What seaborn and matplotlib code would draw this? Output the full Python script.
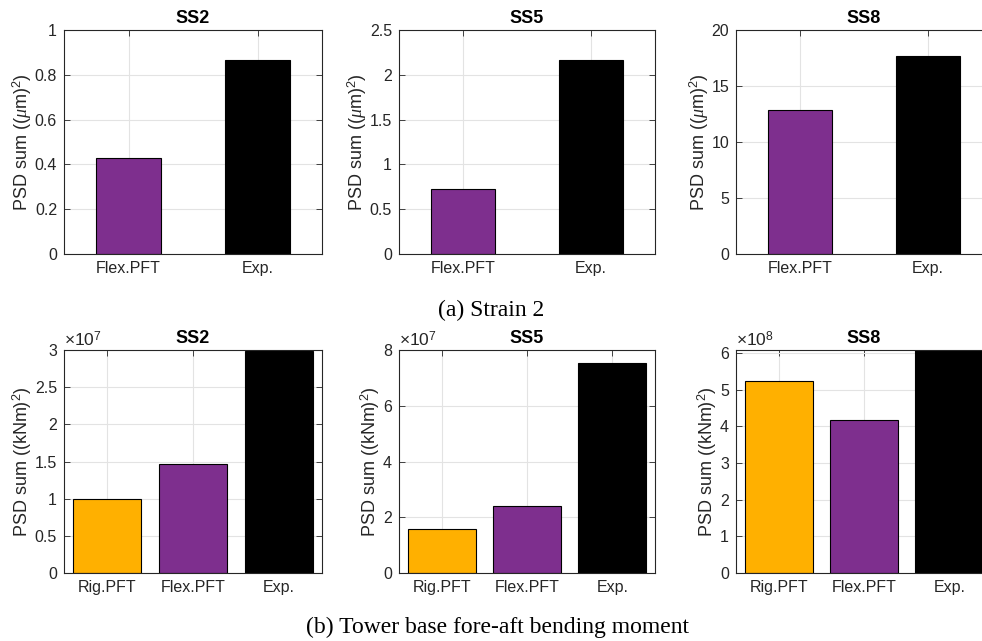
import matplotlib
matplotlib.use("Agg")
import matplotlib.pyplot as plt
import seaborn as sns
import pandas as pd
from matplotlib.ticker import FuncFormatter, MultipleLocator

sns.set_theme(style="white")
plt.rcParams['font.family'] = ['Liberation Sans', 'DejaVu Sans']
plt.rcParams['mathtext.fontset'] = 'custom'
plt.rcParams['mathtext.rm'] = 'Liberation Sans'
plt.rcParams['mathtext.it'] = 'Liberation Serif:italic'

# ---- data ----
titles = ["SS2", "SS5", "SS8"]

strain_cats = ["Flex.PFT", "Exp."]
strain_ss2 = [0.43, 0.865]
strain_ss5 = [0.73, 2.17]
strain_ss8 = [12.85, 17.65]

moment_cats = ["Rig.PFT", "Flex.PFT", "Exp."]
moment_ss2 = [0.99e7, 1.46e7, 2.98e7]
moment_ss5 = [1.58e7, 2.42e7, 7.52e7]
moment_ss8 = [5.23e8, 4.18e8, 6.4e8]

strain_ylims = [1.0, 2.5, 20]
strain_steps = [0.2, 0.5, 5]
moment_ylims = [3.0e7, 8.0e7, 6.08e8]
moment_steps = [0.5e7, 2e7, 1e8]
moment_exps = [7, 7, 8]

colors = {"Rig.PFT": "#FFB000", "Flex.PFT": "#7E2F8E", "Exp.": "#000000"}

strain_label = r"PSD sum (($\mu$m)$^2$)"
moment_label = r"PSD sum ((kNm)$^2$)"
caption_a = "(a) Strain 2"
caption_b = "(b) Tower base fore-aft bending moment"

W, H = 982, 641
fig = plt.figure(figsize=(W / 100, H / 100), dpi=100)

lefts = [64, 399, 736]
widths = [258, 256, 256]

def make_ax(left_px, top_px, bottom_px, width_px):
    return fig.add_axes([left_px / W, 1 - bottom_px / H, width_px / W, (bottom_px - top_px) / H])

def style(ax, cats, ymax, step, ylabel, title, exp=None):
    n = len(cats)
    ax.set_xlim(-0.5, n - 0.5)
    ax.set_ylim(0, ymax)
    ax.yaxis.set_major_locator(MultipleLocator(step))
    if exp is None:
        ax.yaxis.set_major_formatter(FuncFormatter(lambda v, p: f"{v:g}"))
    else:
        sc = 10 ** exp
        ax.yaxis.set_major_formatter(FuncFormatter(lambda v, p: f"{round(v / sc, 6):g}"))
        ax.text(0.0, 1.004, r"$\times$10$^{%d}$" % exp, transform=ax.transAxes,
                ha="left", va="bottom", fontsize=12.5, color="#262626")
    ax.set_xticks(range(n))
    ax.set_xticklabels(cats)
    ax.set_xlabel("")
    ax.set_ylabel(ylabel, fontsize=13, color="#262626", labelpad=0.5)
    ax.set_title(title, fontsize=13, fontweight="bold", color="black", pad=5)
    ax.grid(True, color="#e3e3e3", linewidth=0.8)
    ax.set_axisbelow(True)
    ax.tick_params(axis="both", which="major", direction="in", length=4, width=0.6,
                   top=True, right=True, bottom=True, left=True,
                   labelsize=11.5, colors="#262626", pad=5)
    for s in ax.spines.values():
        s.set_visible(True)
        s.set_color("#262626")
        s.set_linewidth(0.8)

strain_vals = [strain_ss2, strain_ss5, strain_ss8]
for i in range(3):
    ax = make_ax(lefts[i], 30, 254, widths[i])
    df = pd.DataFrame({"cat": strain_cats, "val": strain_vals[i]})
    sns.barplot(data=df, x="cat", y="val", hue="cat", palette=colors, width=0.5,
                edgecolor="black", linewidth=0.8, legend=False, ax=ax, saturation=1)
    style(ax, strain_cats, strain_ylims[i], strain_steps[i], strain_label, titles[i])

moment_vals = [moment_ss2, moment_ss5, moment_ss8]
for i in range(3):
    ax = make_ax(lefts[i], 350, 573, widths[i])
    df = pd.DataFrame({"cat": moment_cats, "val": moment_vals[i]})
    sns.barplot(data=df, x="cat", y="val", hue="cat", palette=colors, width=0.8,
                edgecolor="black", linewidth=0.8, legend=False, ax=ax, saturation=1)
    style(ax, moment_cats, moment_ylims[i], moment_steps[i], moment_label, titles[i],
          exp=moment_exps[i])

fig.text(491 / W, 1 - 310 / H, caption_a, ha="center", va="center",
         fontsize=17, family="Liberation Serif", color="black")
fig.text(498 / W, 1 - 627 / H, caption_b, ha="center", va="center",
         fontsize=17, family="Liberation Serif", color="black")

fig.savefig("out.png", dpi=100)
